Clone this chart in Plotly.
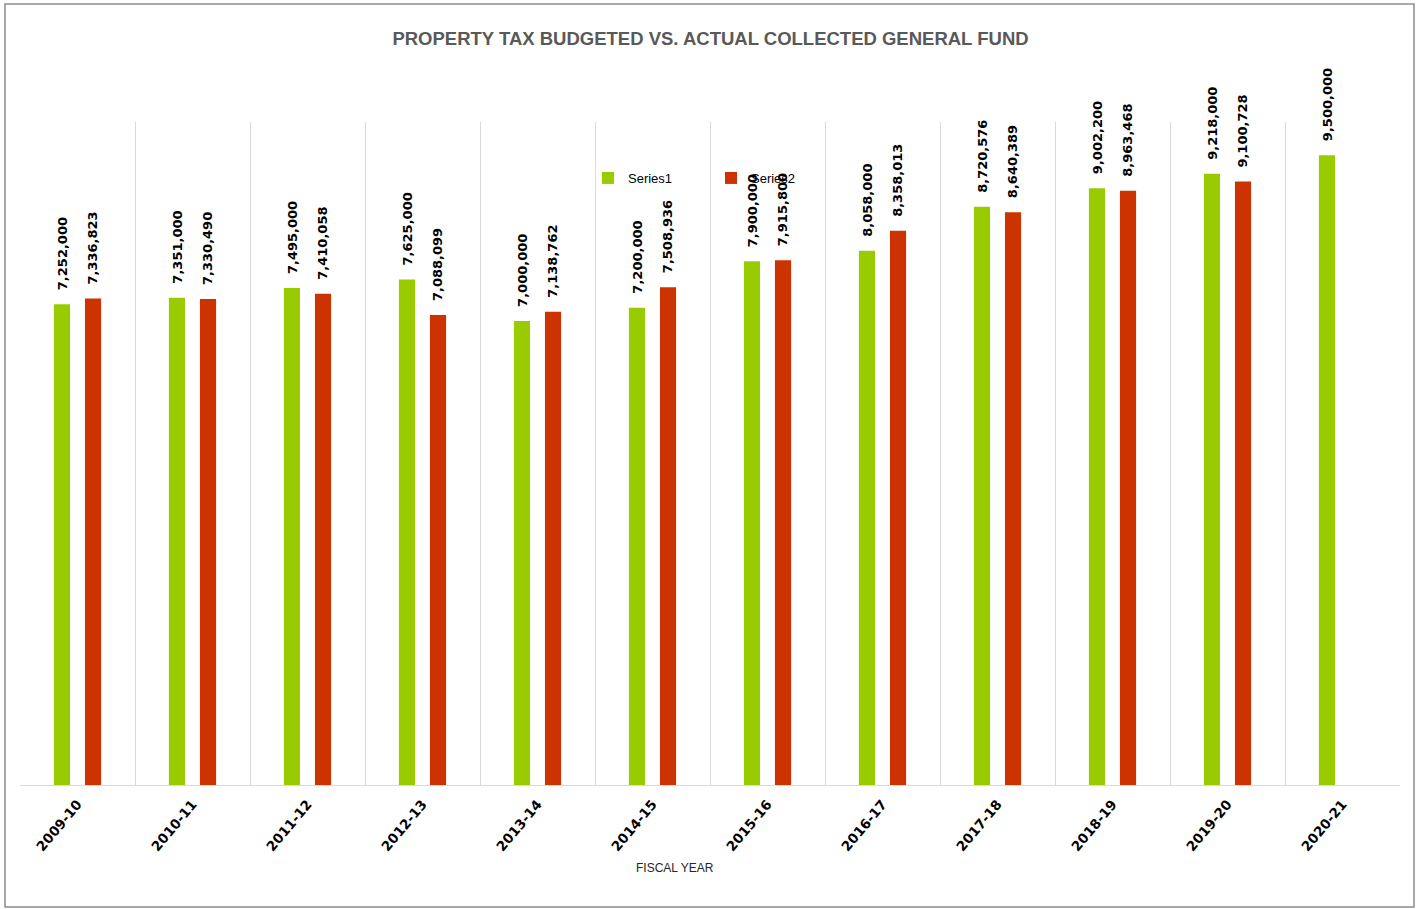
import plotly.graph_objects as go

years = ["2009-10", "2010-11", "2011-12", "2012-13", "2013-14", "2014-15",
         "2015-16", "2016-17", "2017-18", "2018-19", "2019-20", "2020-21"]
series1 = [7252000, 7351000, 7495000, 7625000, 7000000, 7200000,
           7900000, 8058000, 8720576, 9002200, 9218000, 9500000]
series2 = [7336823, 7330490, 7410058, 7088099, 7138762, 7508936,
           7915800, 8358013, 8640389, 8963468, 9100728, None]

GREEN = "#99CC00"
RED = "#CC3300"
W, H = 1421, 909
L, R, T, B = 20, 21, 122, 124

fig = go.Figure()
fig.add_trace(go.Bar(name="Series1", x=years, y=series1, marker_color=GREEN,
                     marker_line_width=0))
fig.add_trace(go.Bar(name="Series2", x=years, y=series2, marker_color=RED,
                     marker_line_width=0))

annotations = []
for shift, vals in ((-15, series1), (15, series2)):
    for yr, v in zip(years, vals):
        if v is None:
            continue
        annotations.append(dict(
            x=yr, y=v, xref="x", yref="y", text=f"{v:,}", showarrow=False,
            textangle=-90, xanchor="center", yanchor="bottom",
            xshift=shift, yshift=12,
            font=dict(family="DejaVu Sans", size=13, color="#000000", weight="bold")))

pw, ph = W - L - R, H - T - B
def px_x(x):
    return (x - L) / pw
def px_y(y):
    return (H - B - y) / ph

annotations.append(dict(
    x=px_x(675), y=px_y(868),
    xref="paper", yref="paper", text="FISCAL YEAR", showarrow=False,
    xanchor="center", yanchor="middle",
    font=dict(family="Liberation Sans, Arial, sans-serif", size=12, color="#262626")))

shapes = [dict(type="rect", xref="paper", yref="paper",
               x0=px_x(5), x1=px_x(1414), y0=px_y(907), y1=px_y(4),
               line=dict(color="#8c8c8c", width=1.5), fillcolor="rgba(0,0,0,0)",
               layer="below")]

fig.update_layout(
    width=W, height=H,
    margin=dict(l=L, r=R, t=T, b=B),
    paper_bgcolor="white", plot_bgcolor="white",
    barmode="group", bargap=0.46, bargroupgap=0.48,
    title=dict(text="PROPERTY TAX BUDGETED VS. ACTUAL COLLECTED GENERAL FUND",
               x=0.5, xref="container", xanchor="center",
               y=1 - 39 / H, yref="container", yanchor="middle",
               font=dict(family="Liberation Sans, Arial, sans-serif",
                         size=18.5, color="#595959", weight="bold")),
    legend=dict(orientation="h", x=px_x(588), y=px_y(178), xanchor="left", yanchor="middle",
                bgcolor="rgba(0,0,0,0)", entrywidth=78, entrywidthmode="pixels",
                itemwidth=30,
                font=dict(family="Liberation Sans, Arial, sans-serif",
                          size=13, color="#000000")),
    xaxis=dict(type="category", tickson="boundaries", showgrid=True,
               gridcolor="#d9d9d9", gridwidth=1, showline=True, linecolor="#d9d9d9",
               ticks="", tickangle=-50, ticklabelstandoff=5,
               tickfont=dict(family="DejaVu Sans", size=13.5, color="#000000",
                             weight="bold")),
    yaxis=dict(range=[0, 10000000], showgrid=False, showticklabels=False,
               zeroline=False, showline=False),
    annotations=annotations,
    shapes=shapes,
)

fig.write_html("out.html")
